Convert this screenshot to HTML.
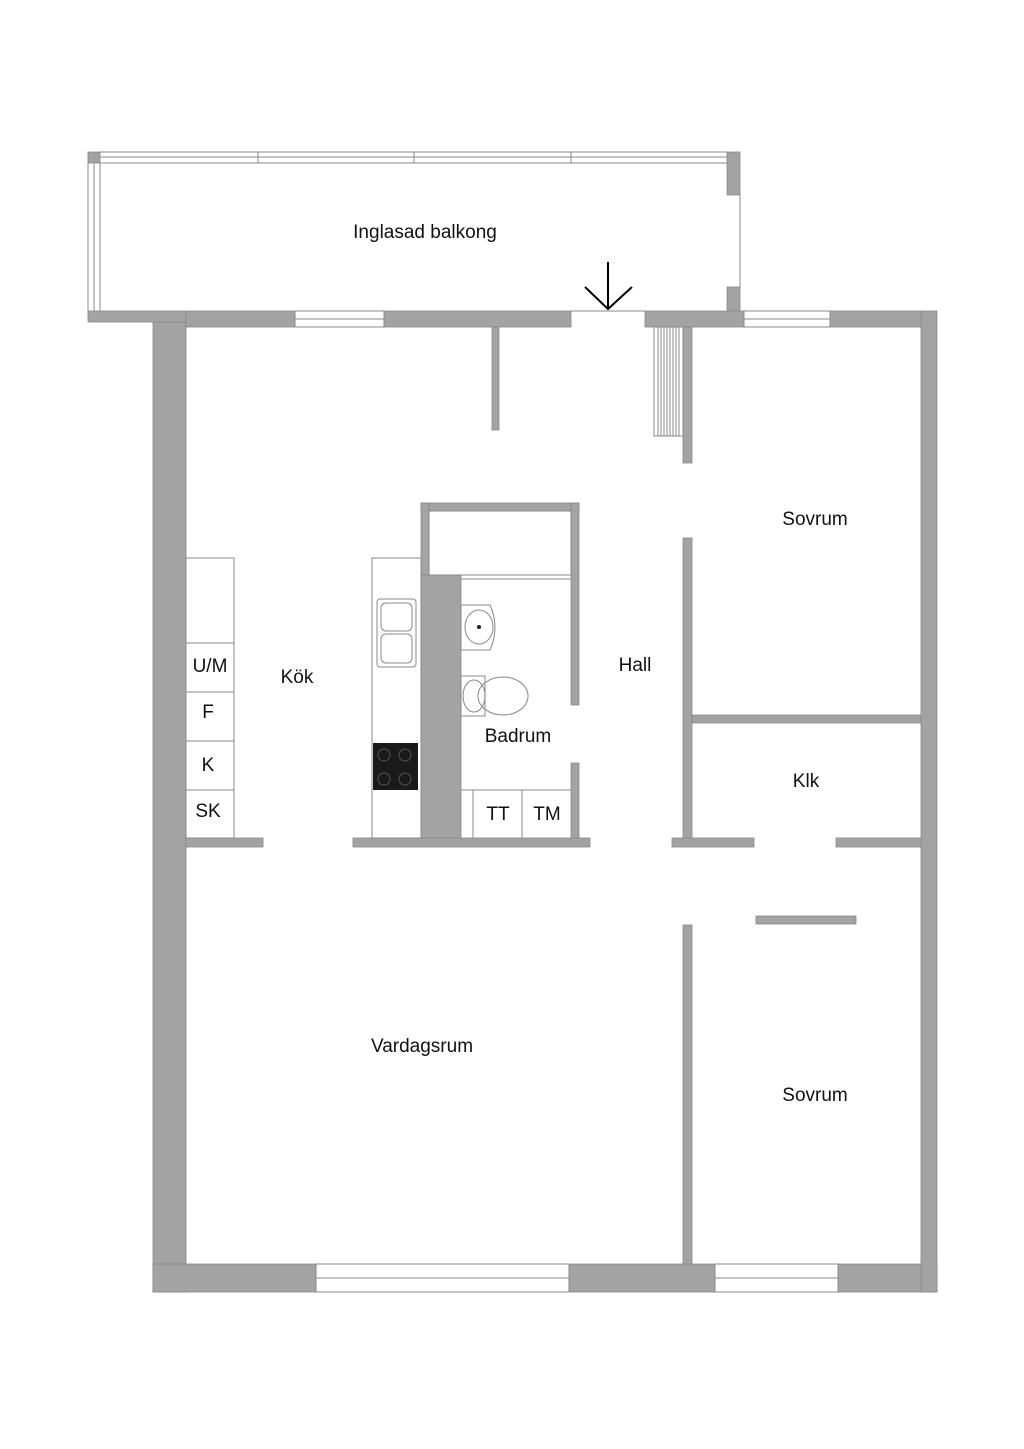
<!DOCTYPE html>
<html><head><style>body{margin:0;background:#fff}svg{display:block}text{font-family:"Liberation Sans",sans-serif;fill:#111;text-anchor:middle;dominant-baseline:middle}</style></head><body>
<svg width="1024" height="1449" viewBox="0 0 1024 1449" xmlns="http://www.w3.org/2000/svg">
<g fill="#a3a3a3" stroke="#888" stroke-width="0.8">
<rect x="88" y="152" width="12" height="11"/>
<rect x="727" y="152" width="13" height="43"/>
<rect x="727" y="287" width="13" height="24"/>
<rect x="88" y="311" width="98" height="11"/>
<rect x="153" y="322" width="33" height="970"/>
<rect x="153" y="1264" width="784" height="28"/>
<rect x="921" y="311" width="16" height="981"/>
<rect x="186" y="311" width="109" height="16"/>
<rect x="384" y="311" width="187" height="16"/>
<rect x="645" y="311" width="99" height="16"/>
<rect x="830" y="311" width="91" height="16"/>
<rect x="492" y="327" width="7" height="103"/>
<rect x="683" y="327" width="9" height="136"/>
<rect x="683" y="538" width="9" height="300"/>
<rect x="692" y="715" width="229" height="8"/>
<rect x="672" y="838" width="82" height="9"/>
<rect x="836" y="838" width="85" height="9"/>
<rect x="683" y="925" width="9" height="339"/>
<rect x="756" y="916" width="100" height="8"/>
<rect x="186" y="838" width="77" height="9"/>
<rect x="353" y="838" width="237" height="9"/>
<rect x="421" y="503" width="158" height="8"/>
<rect x="571" y="503" width="8" height="202"/>
<rect x="571" y="763" width="8" height="75"/>
<rect x="421" y="503" width="8" height="72"/>
<rect x="421" y="575" width="40" height="263"/>
</g>
<g fill="none" stroke="#888" stroke-width="1">
<line x1="100" y1="152" x2="727" y2="152"/><line x1="100" y1="157" x2="727" y2="157"/><line x1="100" y1="163" x2="727" y2="163"/>
<line x1="258" y1="152" x2="258" y2="163"/><line x1="414" y1="152" x2="414" y2="163"/><line x1="571" y1="152" x2="571" y2="163"/>
<line x1="88" y1="163" x2="88" y2="311"/><line x1="94" y1="163" x2="94" y2="311"/><line x1="100" y1="163" x2="100" y2="311"/>
<line x1="740" y1="195" x2="740" y2="287"/>
<line x1="571" y1="311" x2="645" y2="311"/>
<rect x="295" y="311" width="89" height="16" fill="#fff"/><line x1="295" y1="319" x2="384" y2="319"/>
<rect x="744" y="311" width="86" height="16" fill="#fff"/><line x1="744" y1="319" x2="830" y2="319"/>
<rect x="316" y="1264" width="253" height="28" fill="#fff"/><line x1="316" y1="1278" x2="569" y2="1278"/>
<rect x="715" y="1264" width="123" height="28" fill="#fff"/><line x1="715" y1="1278" x2="838" y2="1278"/>
<rect x="654" y="327" width="29" height="109"/>
<path d="M658 327V436M661 327V436M664 327V436M667 327V436M670 327V436M673 327V436M676 327V436M679 327V436"/>
<rect x="186" y="558" width="48" height="280"/>
<path d="M186 643H234M186 692H234M186 741H234M186 790H234"/>
<rect x="372" y="558" width="49" height="280"/>
<rect x="377" y="599" width="39" height="68" rx="3"/>
<rect x="381" y="603" width="31" height="28" rx="5"/><rect x="381" y="634" width="31" height="29" rx="5"/>
<rect x="429" y="511" width="142" height="64"/>
<path d="M461 579H571"/>
<path d="M461 605H490Q500 627 490 650H461Z"/>
<ellipse cx="479" cy="627" rx="14" ry="17"/>
<path d="M461 676H485V716H461Z"/>
<ellipse cx="503" cy="696" rx="25" ry="19"/>
<ellipse cx="474" cy="696" rx="11" ry="16"/>
<path d="M461 790H571M473 790V838M522 790V838"/>
</g>
<rect x="373" y="743" width="45" height="47" fill="#1a1a1a"/>
<g fill="none" stroke="#555" stroke-width="1"><circle cx="384" cy="755" r="6"/><circle cx="405" cy="755" r="6"/><circle cx="384" cy="779" r="6"/><circle cx="405" cy="779" r="6"/></g>
<circle cx="479" cy="627" r="2" fill="#222"/>
<path d="M608 262V309M585 287L608 309L632 287" fill="none" stroke="#000" stroke-width="2"/>
<g font-size="19">
<text x="425" y="233">Inglasad balkong</text>
<text x="815" y="520">Sovrum</text>
<text x="635" y="666">Hall</text>
<text x="297" y="678">Kök</text>
<text x="518" y="737">Badrum</text>
<text x="806" y="782">Klk</text>
<text x="422" y="1047">Vardagsrum</text>
<text x="815" y="1096">Sovrum</text>
<text x="210" y="667">U/M</text>
<text x="208" y="713">F</text>
<text x="208" y="766">K</text>
<text x="208" y="812">SK</text>
<text x="498" y="815">TT</text>
<text x="547" y="815">TM</text>
</g>
</svg>
</body></html>
